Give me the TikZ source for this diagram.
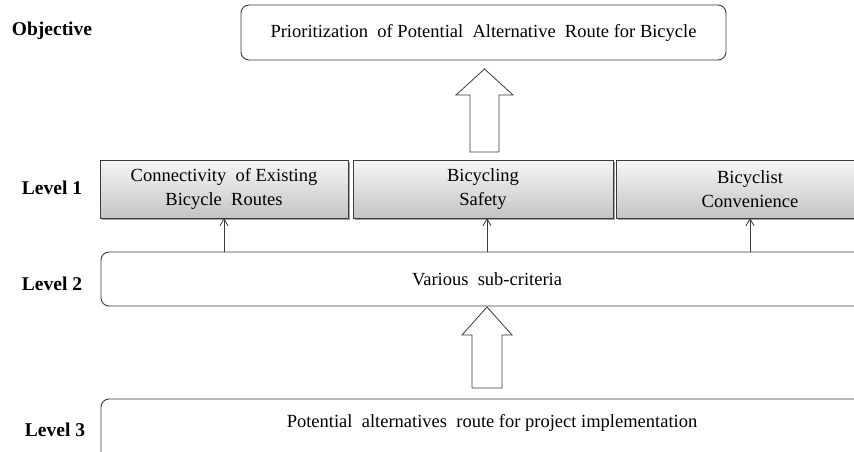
\documentclass[tikz,border=0pt]{standalone}
\usepackage{fontspec}
\setmainfont{Liberation Serif}
\usetikzlibrary{shadows,arrows.meta}
\definecolor{edge}{HTML}{3A3A3A}
\definecolor{shadetop}{HTML}{F7F7F7}
\definecolor{shadebot}{HTML}{C4C4C4}
\begin{document}
\begin{tikzpicture}[x=1pt,y=-1pt,
  every node/.style={inner sep=0pt, outer sep=0pt},
  lvllabel/.style={font=\fontsize{19.5}{22}\selectfont\bfseries},
  roundbox/.style={draw=edge, line width=0.9pt, rounded corners=8pt, fill=white},
  critbox/.style={draw=edge, line width=0.9pt, top color=shadetop, bottom color=shadebot,
    drop shadow={shadow xshift=2pt, shadow yshift=-2pt, fill=black!45, opacity=0.8},
    align=center, font=\fontsize{18.5}{24}\selectfont},
  boxtext/.style={font=\fontsize{18.5}{22}\selectfont},
  thinarrow/.style={draw=edge, line width=0.8pt, -{Straight Barb[length=7pt,width=8pt]}},
  blockarrow/.style={draw=edge, line width=0.8pt, fill=white}
]
\useasboundingbox (0,0) rectangle (854,451);

% left labels
\node[lvllabel] (lobj) at (52,31) {Objective};
\node[lvllabel] (l1) at (52,188) {Level 1};
\node[lvllabel] (l2) at (52,284) {Level 2};
\node[lvllabel] (l3) at (55,430) {Level 3};

% objective
\node[roundbox, minimum width=485pt, minimum height=55pt, boxtext] (obj) at (483.5,32.5)
  {Prioritization\ \ of Potential\ \ Alternative\ \ Route for Bicycle};

% level 1 criteria
\node[critbox, minimum width=248pt, minimum height=58pt] (c1) at (224,189)
  {Connectivity\ \ of Existing\\Bicycle\ \ Routes};
\node[critbox, minimum width=260pt, minimum height=58pt] (c2) at (483,189)
  {Bicycling\\Safety};
\node[critbox, minimum width=268pt, minimum height=58pt] (c3) at (750,189)
  {Bicyclist\\Convenience};

% level 2
\node[roundbox, minimum width=772pt, minimum height=54pt, boxtext] (sub) at (487,279)
  {Various\ \ sub-criteria};

% level 3
\node[roundbox, minimum width=782pt, minimum height=70pt] (alt) at (492,434) {};
\node[boxtext] (alttext) at (492,423) {Potential\ \ alternatives\ \ route for project implementation};

% thin arrows level 2 -> level 1
\draw[thinarrow] (sub.north -| c1.south) -- (c1.south);
\draw[thinarrow] ([xshift=4pt]sub.north -| c2.south) -- ([xshift=4pt]c2.south);
\draw[thinarrow] (sub.north -| c3.south) -- (c3.south);

% block arrow level 1 -> objective
\coordinate (t1) at (484.5,69);
\draw[blockarrow] (t1) -- ++(28.5,26) -- ++(-14,0) -- ++(0,57) -- ++(-29,0) -- ++(0,-57) -- ++(-14,0) -- cycle;

% block arrow level 3 -> level 2
\coordinate (t2) at (487,307);
\draw[blockarrow] (t2) -- ++(25,28) -- ++(-10,0) -- ++(0,53) -- ++(-30,0) -- ++(0,-53) -- ++(-10,0) -- cycle;
\end{tikzpicture}
\end{document}
